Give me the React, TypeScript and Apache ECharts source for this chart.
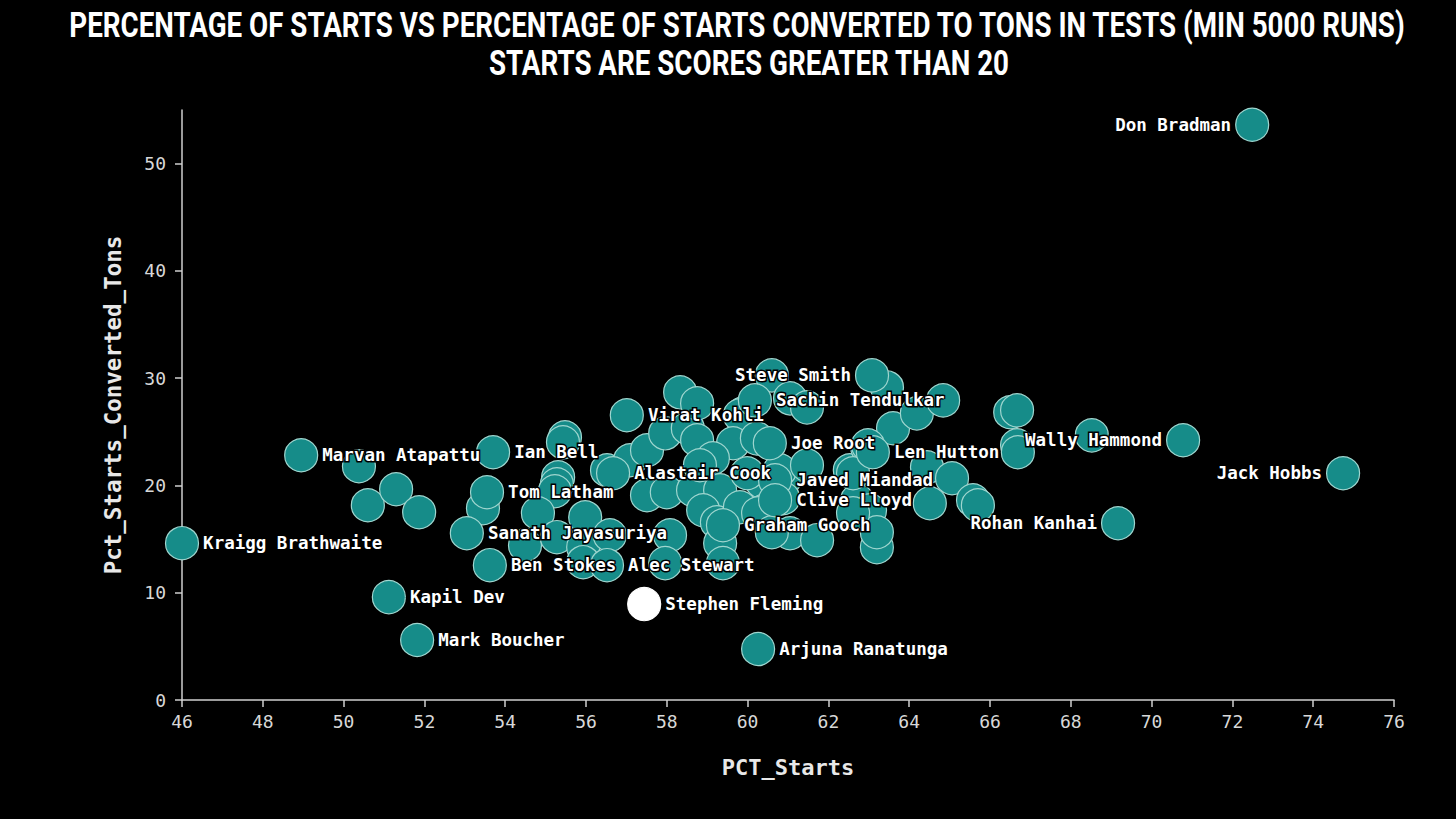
import { useEffect, useRef } from 'react';
import * as echarts from 'echarts';

// labelled players: percentage of innings that were starts, and % of starts turned into tons
const labelledNames = [
  'Don Bradman', 'Jack Hobbs', 'Wally Hammond', 'Rohan Kanhai', 'Len Hutton',
  'Kraigg Brathwaite', 'Marvan Atapattu', 'Kapil Dev', 'Mark Boucher', 'Stephen Fleming',
  'Arjuna Ranatunga', 'Ian Bell', 'Tom Latham', 'Sanath Jayasuriya', 'Ben Stokes',
  'Alec Stewart', 'Virat Kohli', 'Alastair Cook', 'Steve Smith', 'Sachin Tendulkar',
  'Joe Root', 'Javed Miandad', 'Clive Lloyd', 'Graham Gooch',
];
const labelledStarts = [
  72.49, 74.74, 70.78, 69.17, 63.1,
  46.0, 48.95, 51.12, 51.82, 57.44,
  60.26, 53.7, 53.55, 53.05, 53.62,
  56.52, 57.01, 56.67, 63.08, 60.18,
  60.55, 60.68, 60.68, 59.39,
];
const labelledTons = [
  53.63, 21.14, 24.21, 16.48, 23.09,
  14.62, 22.81, 9.59, 5.59, 8.94,
  4.75, 23.09, 19.37, 15.55, 12.57,
  12.57, 26.54, 21.14, 30.26, 27.93,
  23.93, 20.48, 18.62, 16.29,
];

// everyone else with 5000+ test runs
const otherStarts = [
  50.38, 50.6, 51.3, 51.87, 53.45, 55.48, 55.43, 55.31, 55.28, 55.23,
  54.81, 54.49, 55.28, 55.98, 55.93, 55.93, 56.59, 56.52, 57.09, 57.51,
  57.96, 58.52, 58.75, 58.33, 58.75, 59.89, 60.6, 61.05, 61.47, 63.45,
  59.81, 59.64, 59.14, 57.51, 58.0, 58.65, 59.32, 58.9, 59.24, 59.32,
  59.39, 58.08, 57.96, 60.36, 60.93, 60.8, 61.47, 62.53, 62.96, 62.71,
  63.03, 60.43, 61.05, 61.72, 63.2, 63.2, 62.61, 62.61, 59.81, 60.88,
  60.26, 60.6, 63.6, 64.19, 64.84, 62.98, 64.44, 65.06, 64.51, 65.58,
  65.7, 66.5, 66.67, 66.67, 66.69, 68.52, 58.82, 60.23, 59.99,
];
const otherTons = [
  21.79, 18.16, 19.65, 17.5, 17.88, 24.49, 24.02, 20.76, 20.11, 19.46,
  17.41, 14.43, 15.18, 17.04, 14.25, 12.85, 15.36, 21.42, 22.35, 23.28,
  24.86, 25.33, 24.21, 28.68, 27.65, 26.72, 30.26, 28.12, 27.28, 29.14,
  26.54, 23.93, 22.53, 19.09, 19.37, 19.55, 19.55, 17.69, 16.57, 14.62,
  12.76, 15.36, 12.76, 20.3, 20.67, 21.42, 21.88, 21.42, 23.56, 18.62,
  17.69, 17.69, 15.55, 14.9, 14.25, 15.64, 17.41, 21.14, 17.97, 18.81,
  17.41, 15.64, 25.33, 26.72, 27.93, 23.74, 21.69, 20.67, 18.34, 18.62,
  18.16, 26.82, 27.0, 23.74, 23.09, 24.67, 21.88, 24.39, 21.14,
];

const yTicks = [0, 10, 20, 30, 40, 50];

const titleLines = [
  'PERCENTAGE OF STARTS VS PERCENTAGE OF STARTS CONVERTED TO TONS IN TESTS (MIN 5000 RUNS)',
  'STARTS ARE SCORES GREATER THAN 20',
];

const leftLabelled = ['Don Bradman', 'Jack Hobbs', 'Wally Hammond', 'Rohan Kanhai', 'Steve Smith'];
const highlighted = 'Stephen Fleming';

const mono = '"DejaVu Sans Mono", "Liberation Mono", monospace';
const teal = '#168c89';

const App = () => {
  const chartRef = useRef<HTMLDivElement>(null);

  useEffect(() => {
    if (!chartRef.current) return;
    const chart = echarts.init(chartRef.current, undefined, { renderer: 'svg' });

    const others = otherStarts.map((x, i) => ({ value: [x, otherTons[i]] }));
    const named = labelledNames.map((name, i) => ({
      name,
      value: [labelledStarts[i], labelledTons[i]],
      itemStyle: name === highlighted ? { color: '#ffffff', borderColor: '#ffffff' } : undefined,
      label: {
        show: true,
        position: leftLabelled.includes(name) ? 'left' : 'right',
        distance: 4,
        formatter: '{b}',
      },
    }));

    chart.setOption({
      animation: false,
      backgroundColor: '#000',
      graphic: titleLines.map((t, i) => ({
        type: 'text',
        x: i === 0 ? 737 : 749,
        y: i === 0 ? 25 : 63,
        scaleX: 1.11,
        scaleY: 1.4,
        style: {
          text: t,
          fill: '#fff',
          font: 'bold 25px Roboto, "Noto Sans", sans-serif',
          align: 'center',
          verticalAlign: 'middle',
        },
      })),
      grid: { left: 182, right: 62, top: 110, bottom: 119 },
      xAxis: {
        type: 'value',
        min: 46,
        max: 76,
        interval: 2,
        name: 'PCT_Starts',
        nameLocation: 'middle',
        nameGap: 56,
        nameTextStyle: { color: '#e8e8e8', fontFamily: mono, fontWeight: 'bold', fontSize: 22 },
        splitLine: { show: false },
        axisLine: { lineStyle: { color: '#cfcfcf', width: 1.5 } },
        axisTick: { length: 7, lineStyle: { color: '#cfcfcf', width: 1.5 } },
        axisLabel: { color: '#d8d8d8', fontFamily: mono, fontSize: 18, margin: 12 },
      },
      yAxis: {
        type: 'value',
        min: 0,
        max: 55,
        name: 'Pct_Starts_Converted_Tons',
        nameLocation: 'middle',
        nameGap: 58,
        nameTextStyle: { color: '#e8e8e8', fontFamily: mono, fontWeight: 'bold', fontSize: 22.5 },
        splitLine: { show: false },
        axisLine: { show: true, lineStyle: { color: '#cfcfcf', width: 1.5 } },
        axisTick: { show: true, length: 7, customValues: yTicks, lineStyle: { color: '#cfcfcf', width: 1.5 } },
        axisLabel: { color: '#d8d8d8', fontFamily: mono, fontSize: 18, margin: 16, customValues: yTicks },
      },
      series: [
        {
          type: 'scatter',
          symbolSize: 33,
          itemStyle: { color: teal, borderColor: '#9fd6cf', borderWidth: 1.2, opacity: 1 },
          emphasis: { disabled: true },
          label: {
            color: '#fff',
            fontFamily: mono,
            fontWeight: 'bold',
            fontSize: 17.5,
            textBorderColor: '#000',
            textBorderWidth: 3,
          },
          data: [...others, ...named],
        },
      ],
    });

    return () => {
      chart.dispose();
    };
  }, []);

  return (
    <div
      ref={chartRef}
      style={{ position: 'absolute', left: 0, top: 0, width: 1456, height: 819, background: '#000' }}
    />
  );
};

export default App;
